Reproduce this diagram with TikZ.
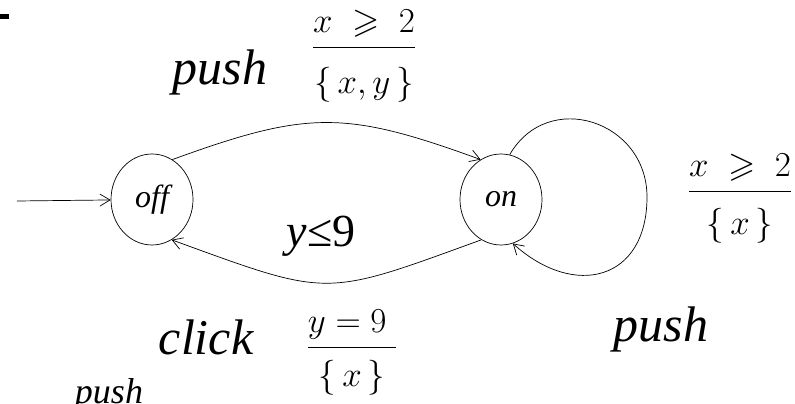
\RequirePackage{fix-cm}
\documentclass[tikz,border=0pt]{standalone}
\usepackage{amsmath,amssymb}
\usepackage{fontspec}
\newfontfamily\tfont{Liberation Serif}
\usetikzlibrary{arrows.meta,shapes.geometric}

\tikzset{
    loc/.style={ellipse, draw, line width=0.7pt, minimum width=82pt, minimum height=91pt,
        inner sep=0pt, font=\tfont\fontsize{32}{36}\selectfont\itshape},
    trans/.style={line width=0.7pt, -{Straight Barb[length=10pt,width=12pt]}},
    act/.style={anchor=base, inner sep=0pt, font=\tfont\fontsize{50}{60}\selectfont\itshape},
    guard/.style={anchor=base, inner sep=0pt, font=\fontsize{35}{42}\selectfont},
}

\begin{document}
\begin{tikzpicture}[x=1pt, y=1pt]
    \useasboundingbox (0,0) rectangle (795,404);
    \clip (0,0) rectangle (795,404);

    % 状态
    \node[loc] (off) at (152,204.5) {off};
    \node[loc] (on)  at (501,204.5) {on};
    \coordinate (init) at (17,203);
    \coordinate (loopR) at (647,207);

    % 迁移
    \draw[trans] (init) -- (off);
    \draw[trans] (off.63) to[out=20, in=160, looseness=1.2] (on.117);
    \draw[trans] (on.244) to[out=200, in=-20, looseness=1.4] (off.296);
    \draw[trans] (on.79) to[out=60, in=90, looseness=1.36] (loopR)
        to[out=-90, in=-42, looseness=1.5] (on.-75);

    % 标签
    \node[act] (pushA) at (220,319) {push};
    \node[guard] (gA) at (364,348)
        {$\dfrac{x \;\geqslant\; 2}{\rule{0pt}{1.18em}\{\,x,y\,\}}$};
    \node[anchor=base, inner sep=0pt, font=\tfont\fontsize{46}{52}\selectfont] (inv) at (321,157)
        {\textit{y}≤9};
    \node[act] (click) at (206,49) {click};
    \node[guard] (gB) at (352,48)
        {$\dfrac{y = 9\;}{\rule{0pt}{0.98em}\{\,x\,\}}$};
    \node[guard] (gC) at (740,204)
        {$\dfrac{x \;\geqslant\; 2}{\rule{0pt}{1.1em}\{\,x\,\}}$};
    \node[act] (pushC) at (661,62) {push};
    \node[anchor=base, inner sep=0pt, font=\tfont\fontsize{36}{42}\selectfont\itshape] (pushD) at (109,0) {push};

    % 残留
    \fill (0,385) rectangle (9,390);
\end{tikzpicture}
\end{document}
